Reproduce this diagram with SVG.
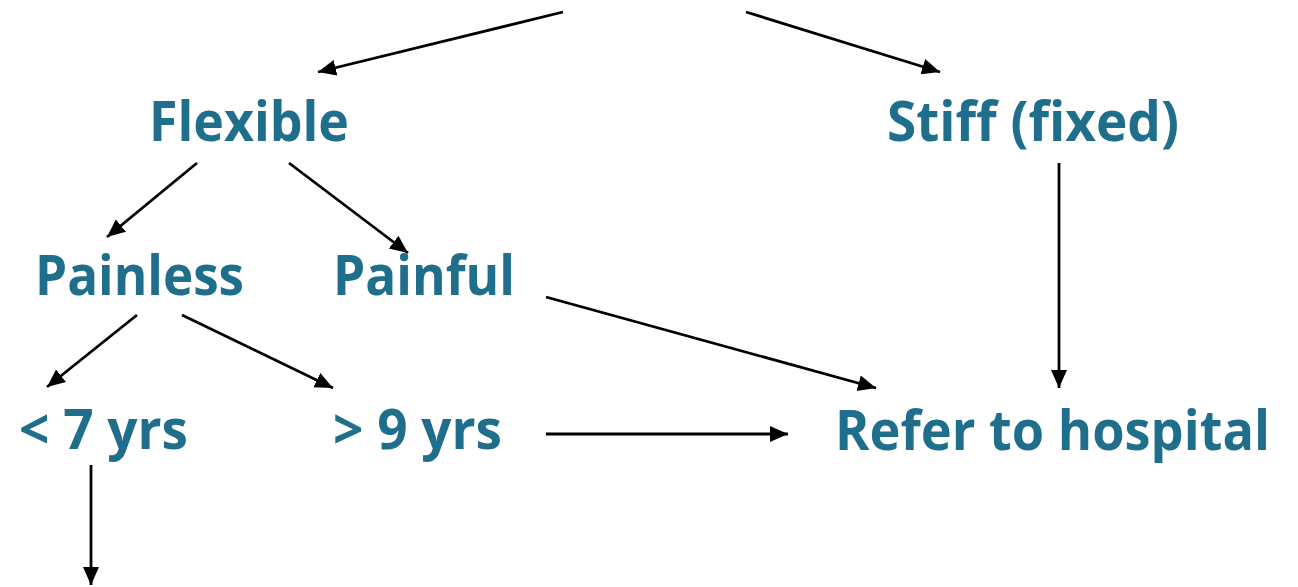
<svg xmlns="http://www.w3.org/2000/svg" width="1298" height="587" viewBox="0 0 1298 587">
<style>
.t{font-family:"Open Sans","Liberation Sans",sans-serif;font-weight:bold;font-size:56px;fill:#1F6E8C}
.c line{stroke:#000;stroke-width:2.8;marker-end:url(#ah)}
</style>
<defs>
<marker id="ah" markerUnits="userSpaceOnUse" markerWidth="20" markerHeight="18" viewBox="0 0 20 18" refX="18" refY="9" orient="auto">
<path d="M0,1 L18,9 L0,17 Z" fill="#000"/>
</marker>
</defs>
<rect width="1298" height="587" fill="#fff"/>
<g class="c" id="connectors">
<line x1="563" y1="12" x2="318" y2="72"/>
<line x1="746" y1="12" x2="940" y2="72"/>
<line x1="197" y1="163" x2="107" y2="237"/>
<line x1="289" y1="163" x2="408" y2="253"/>
<line x1="1059" y1="163" x2="1059" y2="388"/>
<line x1="137" y1="315" x2="47" y2="387"/>
<line x1="182" y1="315" x2="333" y2="388"/>
<line x1="546" y1="297" x2="876" y2="388"/>
<line x1="546" y1="434" x2="788" y2="434"/>
<line x1="91" y1="465" x2="91" y2="585"/>
</g>
<g id="flexible"><text class="t" x="149" y="141" textLength="200" lengthAdjust="spacingAndGlyphs">Flexible</text></g>
<g id="stiff"><text class="t" x="887" y="141" textLength="292" lengthAdjust="spacingAndGlyphs">Stiff (fixed)</text></g>
<g id="painless"><text class="t" x="35" y="295" textLength="209" lengthAdjust="spacingAndGlyphs">Painless</text></g>
<g id="painful"><text class="t" x="333" y="295" textLength="182" lengthAdjust="spacingAndGlyphs">Painful</text></g>
<g id="lt7"><text class="t" x="19" y="449" textLength="169" lengthAdjust="spacingAndGlyphs">&lt; 7 yrs</text></g>
<g id="gt9"><text class="t" x="333" y="449" textLength="169" lengthAdjust="spacingAndGlyphs">&gt; 9 yrs</text></g>
<g id="refer"><text class="t" x="835" y="450" textLength="435" lengthAdjust="spacingAndGlyphs">Refer to hospital</text></g>
</svg>
